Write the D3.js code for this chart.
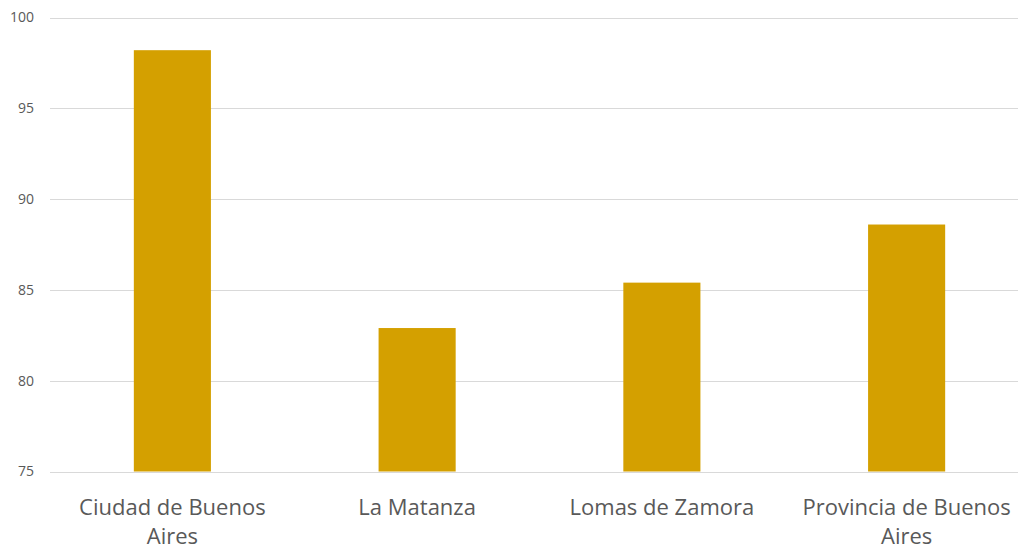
<!DOCTYPE html>
<html>
<head>
<meta charset="utf-8">
<script src="https://cdn.jsdelivr.net/npm/d3@7"></script>
<style>
  html, body { margin: 0; padding: 0; background: #ffffff; }
  svg { display: block; }
</style>
</head>
<body>
<svg id="chart" width="1018" height="549"></svg>
<script>
const categories = ["Ciudad de Buenos Aires", "La Matanza", "Lomas de Zamora", "Provincia de Buenos Aires"];
const values = [98.2, 82.9, 85.4, 88.6];
const yTicks = [75, 80, 85, 90, 95, 100];

const svg = d3.select("#chart");
const W = 1018, H = 549;
const plot = { left: 50, right: 1029, top: 17.5, bottom: 471.5 };

const x = d3.scaleBand()
  .domain(categories)
  .range([plot.left, plot.right])
  .paddingInner(0.685)
  .paddingOuter(0.3425);

const y = d3.scaleLinear()
  .domain([75, 100])
  .range([plot.bottom, plot.top]);

// gridlines
svg.append("g")
  .selectAll("line")
  .data(yTicks)
  .join("line")
  .attr("x1", plot.left)
  .attr("x2", W)
  .attr("y1", d => Math.round(y(d)) + 0.5)
  .attr("y2", d => Math.round(y(d)) + 0.5)
  .attr("stroke", "#d9d9d9")
  .attr("stroke-width", 1);

// y axis labels
const yAxis = d3.axisLeft(y).tickValues(yTicks).tickSize(0).tickPadding(0);
const gy = svg.append("g")
  .attr("transform", `translate(34,0)`)
  .call(yAxis);
gy.select(".domain").remove();
gy.selectAll("text")
  .attr("font-family", "'Open Sans', sans-serif")
  .attr("font-size", 14)
  .attr("fill", "#595959");

// bars
svg.append("g")
  .selectAll("rect")
  .data(values)
  .join("rect")
  .attr("x", (d, i) => x(categories[i]))
  .attr("width", x.bandwidth())
  .attr("y", d => y(d))
  .attr("height", d => y(75) - y(d))
  .attr("fill", "#d4a000");

// x axis labels
const xAxis = d3.axisBottom(x).tickSize(0).tickPadding(0);
const gx = svg.append("g")
  .attr("transform", `translate(0,${plot.bottom})`)
  .call(xAxis);
gx.select(".domain").remove();
gx.selectAll("text")
  .attr("font-family", "'Open Sans', sans-serif")
  .attr("font-size", 22)
  .attr("fill", "#595959")
  .attr("dy", null)
  .attr("y", 0)
  .each(function(d) {
    const t = d3.select(this);
    const words = d.split(" ");
    t.text(null);
    const maxW = x.step() * 0.92;
    let lines = [];
    let cur = [];
    let tspan = t.append("tspan");
    words.forEach(w => {
      cur.push(w);
      tspan.text(cur.join(" "));
      if (tspan.node().getComputedTextLength() > maxW && cur.length > 1) {
        cur.pop();
        lines.push(cur.join(" "));
        cur = [w];
      }
    });
    lines.push(cur.join(" "));
    t.text(null);
    lines.forEach((ln, i) => {
      t.append("tspan")
        .attr("x", 0)
        .attr("y", 43 + i * 29)
        .text(ln);
    });
  });
</script>
</body>
</html>
